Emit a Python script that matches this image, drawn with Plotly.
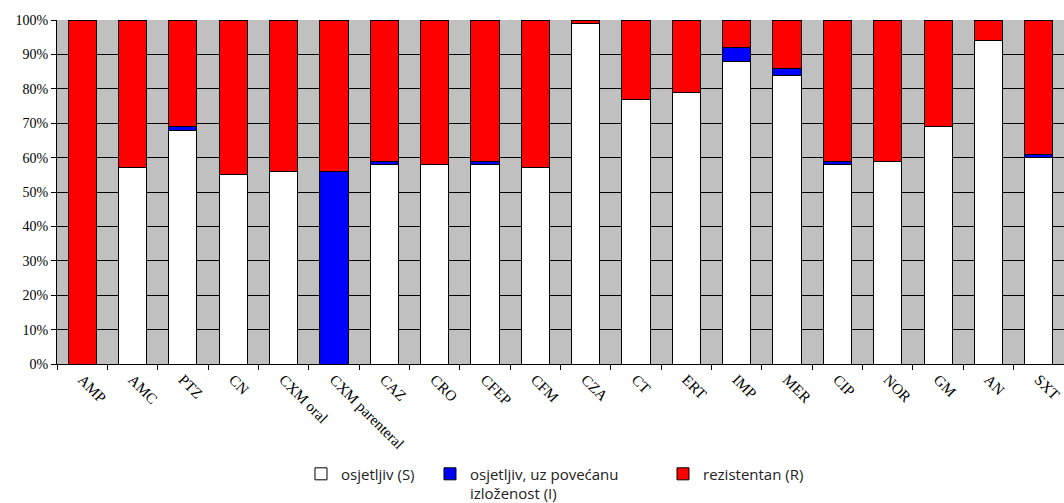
import plotly.graph_objects as go

categories = ["AMP", "AMC", "PTZ", "CN", "CXM oral", "CXM parenteral", "CAZ", "CRO",
              "CFEP", "CFM", "CZA", "CT", "ERT", "IMP", "MER", "CIP", "NOR", "GM", "AN", "SXT"]
sensitive = [0, 57, 68, 55, 56, 0, 58, 58, 58, 57, 99, 77, 79, 88, 84, 58, 59, 69, 94, 60]
intermediate = [0, 0, 1, 0, 0, 56, 1, 0, 1, 0, 0, 0, 0, 4, 2, 1, 0, 0, 0, 1]
resistant = [100, 43, 31, 45, 44, 44, 41, 42, 41, 43, 1, 23, 21, 8, 14, 41, 41, 31, 6, 39]
y_ticks = [0, 10, 20, 30, 40, 50, 60, 70, 80, 90, 100]
y_tick_labels = [f"{v}%" for v in y_ticks]

series = [
    ("osjetljiv (S)", sensitive, "#FFFFFF", "legend"),
    ("osjetljiv, uz povećanu<br>izloženost (I)", intermediate, "#0000FF", "legend2"),
    ("rezistentan (R)", resistant, "#FF0000", "legend3"),
]

fig = go.Figure()
for name, vals, color, lg in series:
    fig.add_trace(go.Bar(
        x=categories, y=vals, name=name, legend=lg,
        marker=dict(color=color, line=dict(color="#000000", width=1)),
    ))

legend_common = dict(
    orientation="h", yanchor="top", xanchor="left",
    bgcolor="rgba(0,0,0,0)", valign="top",
    font=dict(family="Open Sans, Liberation Sans, sans-serif", size=15, color="#222222"),
    itemwidth=30,
)

fig.update_layout(
    barmode="stack",
    bargap=0.44,
    width=1064, height=503,
    margin=dict(l=57, r=0, t=20, b=139, autoexpand=False),
    paper_bgcolor="#FFFFFF",
    plot_bgcolor="#C0C0C0",
    showlegend=True,
    legend=dict(x=0.2423, y=-0.272, **legend_common),
    legend2=dict(x=0.3704, y=-0.272, **legend_common),
    legend3=dict(x=0.6018, y=-0.272, **legend_common),
    xaxis=dict(
        tickangle=45,
        tickson="boundaries",
        ticks="outside", ticklen=5, tickcolor="#000000",
        showgrid=False, automargin=False,
        showline=True, linecolor="#000000", linewidth=1,
        tickfont=dict(family="Liberation Serif, Times New Roman, serif", size=15, color="#000000"),
    ),
    yaxis=dict(
        range=[0, 100], automargin=False,
        tickvals=y_ticks, ticktext=y_tick_labels,
        ticks="outside", ticklen=5, tickcolor="#000000",
        showgrid=True, gridcolor="#000000", gridwidth=1,
        showline=True, linecolor="#000000", linewidth=1,
        zeroline=False,
        tickfont=dict(family="Liberation Serif, Times New Roman, serif", size=14, color="#000000"),
    ),
)

fig.write_html(
    "out.html",
    config={"displayModeBar": False},
    post_script="document.body.style.margin='0';document.body.style.overflow='hidden';",
)
